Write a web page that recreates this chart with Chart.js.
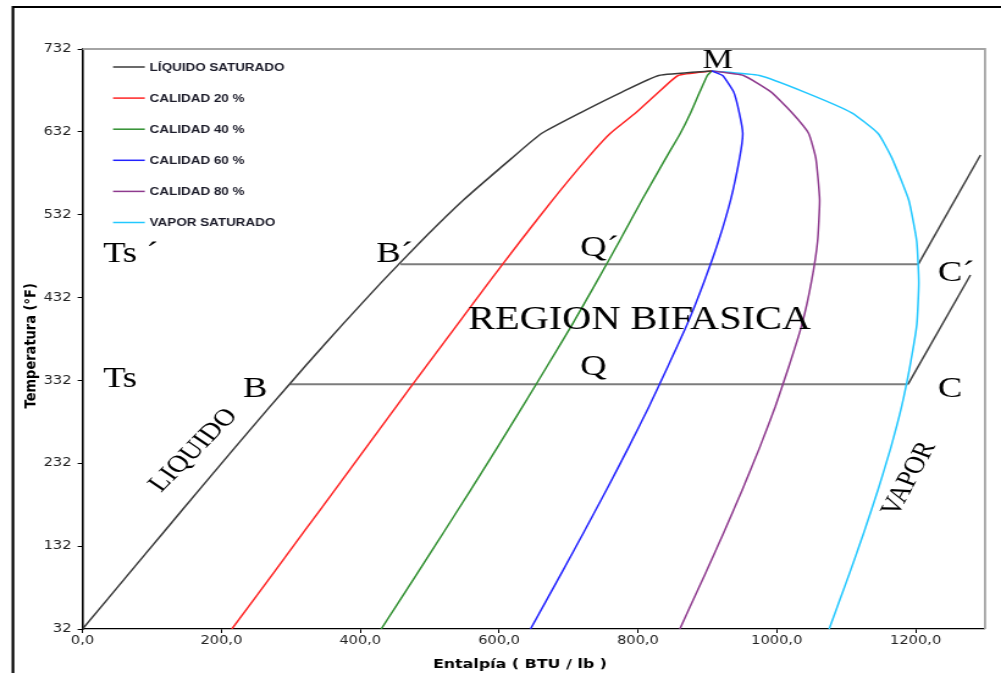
<!DOCTYPE html>
<html>
<head>
<meta charset="utf-8">
<script src="https://cdn.jsdelivr.net/npm/chart.js@4.4.1/dist/chart.umd.min.js"></script>
<style>
  html, body { margin: 0; padding: 0; background: #fff; overflow: hidden; }
  #wrap { width: 820px; height: 673px; transform: scaleX(1.22073); transform-origin: 0 0; }
  #chart { display: block; }
</style>
</head>
<body>
<div id="wrap"><canvas id="chart" width="820" height="673"></canvas></div>
<script>
// temperatura (°F) de cada punto
const temps = [32, 100, 150, 200, 250, 300, 350, 400, 450, 500, 550, 600, 630, 655, 680, 700, 705.4];

// entalpia (BTU/lb) de cada curva
const hLiquido = [0, 68, 118, 168, 218.5, 269.6, 321.6, 375, 430.1, 487.7, 549.1, 618, 661, 717, 777, 830, 906];
const hCal20 = [215.1, 275.5, 319.5, 363.6, 407.6, 451.6, 495.7, 540.4, 585, 630.5, 677.3, 727, 760, 797, 830, 858, 906];
const hCal40 = [430.2, 482.9, 521.2, 559.2, 596.7, 633.6, 669.8, 705.7, 739.9, 773.3, 806, 840, 861, 876, 889, 900, 906];
const hCal60 = [645.3, 690.3, 722.8, 754.8, 785.8, 815.7, 843.8, 871.1, 894.8, 916, 933.6, 946.4, 951, 946, 938, 922, 906];
const hCal80 = [860.4, 897.7, 924.5, 950.4, 974.9, 997.7, 1017.9, 1036.4, 1049.7, 1058.8, 1061.8, 1056.3, 1046, 1022, 992, 952, 906];
const hVapor = [1075.5, 1105.2, 1126.1, 1145.9, 1164, 1179.7, 1192, 1201.8, 1204.6, 1201.6, 1190, 1166.1, 1146, 1108, 1040, 975, 906];

// lineas B-C y B'-C' con su tramo de vapor sobrecalentado
const hTsLow = [299, 1189];
const tTsLow = [327.3, 327.3];
const hSupLow = [1189, 1279];
const tSupLow = [327.3, 459.2];
const hTsHigh = [458, 1204];
const tTsHigh = [472.3, 472.3];
const hSupHigh = [1204, 1293.5];
const tSupHigh = [472.3, 604];

const xTicks = [0, 200, 400, 600, 800, 1000, 1200];
const yTicks = [32, 132, 232, 332, 432, 532, 632, 732];

const seriesNames = ['LÍQUIDO SATURADO', 'CALIDAD 20 %', 'CALIDAD 40 %', 'CALIDAD 60 %', 'CALIDAD 80 %', 'VAPOR SATURADO'];
const seriesH = [hLiquido, hCal20, hCal40, hCal60, hCal80, hVapor];
const seriesColors = ['#3a3a3a', '#ff2424', '#2f8f2f', '#2222ff', '#8e3a8e', '#22c8ff'];

// textos del diagrama
const noteText = ['Ts \u00B4', 'B\u00B4', 'Ts', 'B', 'Q\u00B4', 'REGION BIFASICA', 'Q', 'C\u00B4', 'C', 'M', 'LIQUIDO', 'VAPOR'];

function toPoints(hs, ts) {
    return hs.map((h, i) => ({ x: h, y: ts[i] }));
}

// donde va cada texto (en unidades del grafico) y como se ve
const noteLayout = [
    { h: 29.5, t: 475, size: 30, rot: 0 },
    { h: 423, t: 475, size: 30, rot: 0 },
    { h: 29.5, t: 324, size: 30, rot: 0 },
    { h: 231, t: 312, size: 30, rot: 0 },
    { h: 717, t: 482, size: 30, rot: 0 },
    { h: 555.6, t: 394, size: 33, rot: 0 },
    { h: 717, t: 339, size: 30, rot: 0 },
    { h: 1232, t: 452, size: 30, rot: 0 },
    { h: 1232, t: 312, size: 30, rot: 0 },
    { h: 893, t: 708.7, size: 28, rot: 0 },
    { h: 113, t: 196, size: 24, rot: -50.7 },
    { h: 1173, t: 167, size: 24, rot: -66.1 }
];

const datasets = seriesH.map((hs, i) => ({
    label: seriesNames[i],
    data: toPoints(hs, temps),
    borderColor: seriesColors[i],
    borderWidth: 1.5,
    showLine: true,
    pointRadius: 0,
    tension: 0.15,
    fill: false
}));

[[hTsLow, tTsLow, '#7c7c7c', 2], [hTsHigh, tTsHigh, '#7c7c7c', 2],
 [hSupLow, tSupLow, '#404040', 1.5], [hSupHigh, tSupHigh, '#404040', 1.5]].forEach(([hs, ts, color, w]) => {
    datasets.push({
        label: '',
        data: toPoints(hs, ts),
        borderColor: color,
        borderWidth: w,
        showLine: true,
        pointRadius: 0,
        tension: 0,
        fill: false
    });
});

// marco exterior y borde gris del area de trazado
const framePlugin = {
    id: 'framePlugin',
    beforeDraw(chart) {
        const { ctx, width, height } = chart;
        ctx.save();
        ctx.fillStyle = '#fff';
        ctx.fillRect(0, 0, width, height);
        ctx.strokeStyle = '#000';
        ctx.lineWidth = 2.2;
        ctx.beginPath();
        ctx.moveTo(10.6, height + 5);
        ctx.lineTo(10.6, 7);
        ctx.lineTo(width + 5, 7);
        ctx.stroke();
        ctx.restore();
    },
    beforeDatasetsDraw(chart) {
        const { ctx, chartArea } = chart;
        ctx.save();
        ctx.strokeStyle = '#a4a4a4';
        ctx.lineWidth = 1.8;
        ctx.beginPath();
        ctx.moveTo(chartArea.left, chartArea.top);
        ctx.lineTo(chartArea.right, chartArea.top);
        ctx.lineTo(chartArea.right, chartArea.bottom);
        ctx.stroke();
        ctx.restore();
    }
};

// leyenda dentro del area de trazado
const insideLegend = {
    id: 'insideLegend',
    afterDatasetsDraw(chart) {
        const { ctx, chartArea } = chart;
        ctx.save();
        ctx.font = 'bold 11px "Liberation Sans", Arial, sans-serif';
        ctx.textBaseline = 'middle';
        ctx.textAlign = 'left';
        seriesNames.forEach((name, i) => {
            const y = chartArea.top + 18 + i * 31.1;
            ctx.strokeStyle = seriesColors[i];
            ctx.lineWidth = 1.5;
            ctx.beginPath();
            ctx.moveTo(chartArea.left + 25, y);
            ctx.lineTo(chartArea.left + 51, y);
            ctx.stroke();
            ctx.fillStyle = '#1c1c2a';
            ctx.fillText(name, chartArea.left + 55, y + 0.5);
        });
        ctx.restore();
    }
};

// textos del diagrama (Ts, B, Q, C, M ...)
const notesPlugin = {
    id: 'notesPlugin',
    afterDatasetsDraw(chart) {
        const { ctx, scales } = chart;
        ctx.save();
        ctx.fillStyle = '#000';
        ctx.textBaseline = 'alphabetic';
        ctx.textAlign = 'left';
        noteText.forEach((txt, i) => {
            const n = noteLayout[i];
            const px = scales.x.getPixelForValue(n.h);
            const py = scales.y.getPixelForValue(n.t);
            ctx.save();
            ctx.translate(px, py);
            ctx.rotate(n.rot * Math.PI / 180);
            ctx.font = n.size + 'px "Liberation Serif", "Times New Roman", serif';
            ctx.fillText(txt, 0, 0);
            ctx.restore();
        });
        ctx.restore();
    }
};

const ctx = document.getElementById('chart').getContext('2d');
new Chart(ctx, {
    type: 'scatter',
    data: { datasets: datasets },
    plugins: [framePlugin, insideLegend, notesPlugin],
    options: {
        responsive: false,
        devicePixelRatio: 1,
        animation: false,
        layout: { padding: { left: 10, right: 13.1, top: 49, bottom: 0 } },
        plugins: {
            legend: { display: false },
            tooltip: { enabled: false }
        },
        scales: {
            x: {
                type: 'linear',
                min: 0,
                max: 1300,
                afterBuildTicks: s => { s.ticks = xTicks.map(v => ({ value: v })); },
                afterFit: s => { s.height = 44; s.paddingLeft = 0; s.paddingRight = 0; },
                ticks: {
                    maxRotation: 0,
                    autoSkip: false,
                    padding: 1,
                    color: '#222',
                    font: { family: '"DejaVu Sans", sans-serif', size: 12 },
                    callback: v => v.toFixed(1).replace('.', ',')
                },
                grid: { drawOnChartArea: false, drawTicks: true, tickLength: 4, color: '#000' },
                border: { color: '#000', width: 1.3 },
                title: {
                    display: true,
                    text: 'Entalpía ( BTU / lb )     ',
                    color: '#000',
                    font: { family: '"DejaVu Sans", sans-serif', size: 13, weight: 'bold' },
                    padding: { top: 0, bottom: 1 }
                }
            },
            y: {
                type: 'linear',
                min: 32,
                max: 732,
                afterBuildTicks: s => { s.ticks = yTicks.map(v => ({ value: v })); },
                afterFit: s => { s.width = 57.6; },
                ticks: {
                    autoSkip: false,
                    padding: 5,
                    color: '#222',
                    font: { family: '"DejaVu Sans", sans-serif', size: 12 }
                },
                grid: { drawOnChartArea: false, drawTicks: true, tickLength: 4, color: '#000' },
                border: { color: '#000', width: 1.6 },
                title: {
                    display: true,
                    text: 'Temperatura (°F)   ',
                    color: '#000',
                    font: { family: '"DejaVu Sans", sans-serif', size: 13, weight: 'bold' },
                    padding: { top: 7.6, bottom: 0 }
                }
            }
        }
    }
});
</script>
</body>
</html>
